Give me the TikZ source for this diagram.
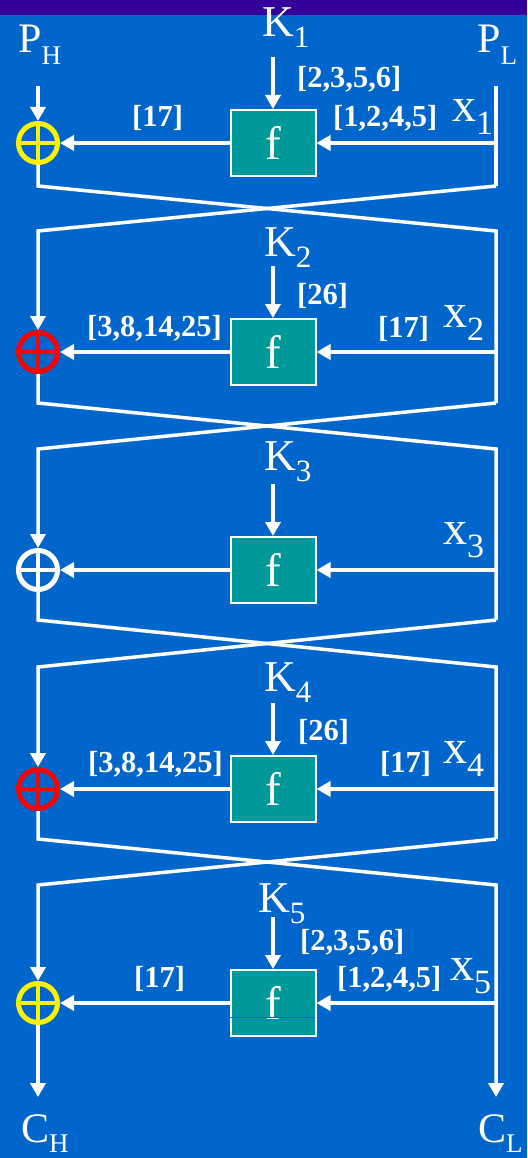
\documentclass[tikz,border=0pt]{standalone}
\usepackage{fontspec}
\setmainfont{Liberation Serif}
\usetikzlibrary{arrows.meta}

\definecolor{slideblue}{HTML}{0066CC}
\definecolor{slidebar}{HTML}{330099}
\definecolor{fteal}{HTML}{009999}

% lowered index: drop, size, text
\newcommand{\lowsub}[3]{\raisebox{-#1pt}{\fontsize{#2}{#2}\selectfont #3}}

\tikzset{
  wire/.style={white, line width=3.5pt},
  fbox/.style={draw=white, line width=2pt, fill=fteal, minimum width=85pt,
    minimum height=66pt, inner sep=0pt, text=white, font=\fontsize{47}{47}\selectfont},
  xor/.style={circle, draw=#1, line width=5pt, minimum size=39pt, inner sep=0pt,
    path picture={\draw[#1, line width=4pt]
      (path picture bounding box.north) -- (path picture bounding box.south)
      (path picture bounding box.west) -- (path picture bounding box.east);}},
  sym/.style={text=white, inner sep=0pt, anchor=base west, font=\fontsize{42}{42}\selectfont},
  keysym/.style={sym, font=\fontsize{44}{44}\selectfont},
  xsym/.style={sym, font=\fontsize{48}{48}\selectfont},
  bits/.style={text=white, inner sep=0pt, anchor=base west, font=\fontsize{30.5}{30.5}\selectfont\bfseries},
}

\begin{document}
\begin{tikzpicture}[x=1pt, y=-1pt, >={Triangle[width=15pt,length=14pt]}]
    \useasboundingbox (0,0) rectangle (527,1158);
    \fill[slideblue] (0,0) rectangle (527,1158);
    \fill[slidebar] (0,0) rectangle (527,15);

    \foreach \i/\yc/\t/\b/\col in {1/143/86/186/yellow, 2/352/231/403/red,
        3/570/449/620/white, 4/789/667/839/red, 5/1003/885/1097/yellow} {
        \node[fbox] (f\i) at (273,\yc) {f};
        \node[xor=\col] (x\i) at (38,\yc) {};
        \coordinate (lt\i) at (38,\t);
        \coordinate (rt\i) at (496,\t);
        \coordinate (lb\i) at (38,\b);
        \coordinate (rb\i) at (496,\b);
        \coordinate (rm\i) at (496,\yc);
        \coordinate (k\i) at (273,\yc-86);
        \draw[wire,->] (k\i) -- (f\i);
        \draw[wire,->] (rm\i) -- (f\i);
        \draw[wire,->] (f\i) -- (x\i);
    }

    \draw[wire,->] (lt1) -- (x1);
    \draw[wire] (rt1) -- (rb1);
    \foreach \i/\j/\tip in {1/2/-, 2/3/-, 3/4/-, 4/5/->} {
        \draw[wire,\tip] (x\i) -- (lb\i) -- (rt\j) -- (rb\j);
        \draw[wire,->] (rb\i) -- (lt\j) -- (x\j);
    }
    \draw[wire,->] (x5) -- (lb5);
    \draw[slideblue, line width=0.8pt] (230,1017) -- (315,1017);

    \node[sym] (ph) at (18,53) {P\lowsub{12}{27}{H}};
    \node[sym] (pl) at (477,53) {P\lowsub{12}{27}{L}};
    \node[sym] (ch) at (21,1142) {C\lowsub{10}{27}{H}};
    \node[sym] (cl) at (478,1142) {C\lowsub{10}{27}{L}};

    \foreach \i/\kx/\ky/\xx/\xy in {1/262/37/452/122, 2/264/256/443/327,
        3/264/470/443/544, 4/264/691/443/763, 5/258/912/450/980} {
        \node[keysym] (kl\i) at (\kx,\ky) {K\lowsub{11}{31}{\i}};
        \node[xsym] (xl\i) at (\xx,\xy) {x\lowsub{13}{34}{\i}};
    }

    \node[bits] (e1) at (297,88) {[2,3,5,6]};
    \node[bits] (s1) at (333,127) {[1,2,4,5]};
    \node[bits] (p1) at (132,127) {[17]};
    \node[bits] (e2) at (297,304) {[26]};
    \node[bits] (s2) at (378,337) {[17]};
    \node[bits] (p2) at (87,336) {[3,8,14,25]};
    \node[bits] (e4) at (298,740) {[26]};
    \node[bits] (s4) at (380,772) {[17]};
    \node[bits] (p4) at (88,772) {[3,8,14,25]};
    \node[bits] (e5) at (300,950) {[2,3,5,6]};
    \node[bits] (s5) at (337,987) {[1,2,4,5]};
    \node[bits] (p5) at (134,987) {[17]};
\end{tikzpicture}
\end{document}
